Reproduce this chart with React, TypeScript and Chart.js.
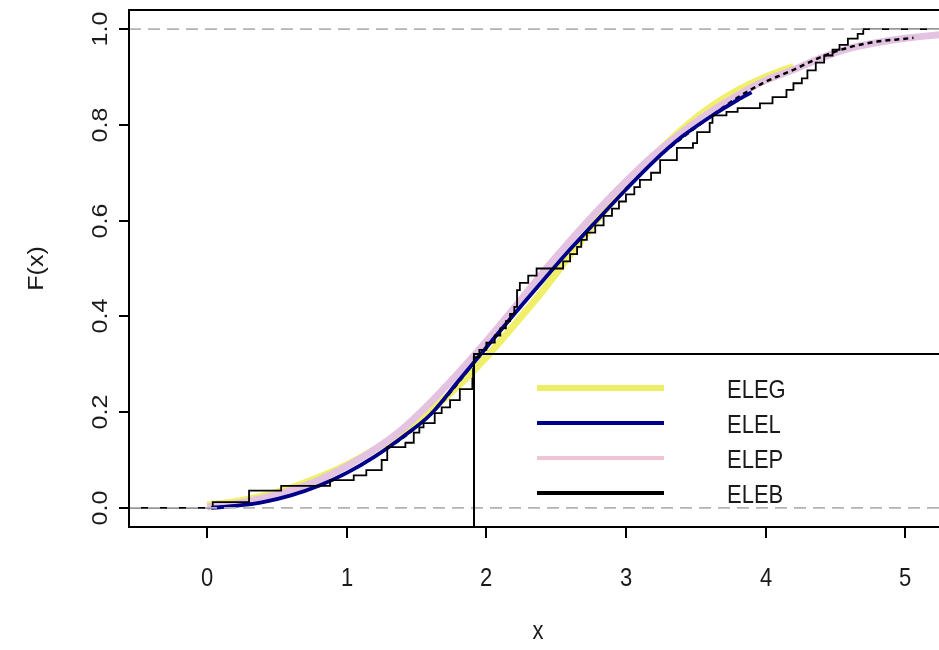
import React, { useEffect, useRef } from "react";
import { Chart, registerables } from "chart.js";

Chart.register(...registerables);

// ---- axis ranges & ticks ----
const X_MIN = -0.56;
const X_MAX = 5.3;
const Y_MIN = -0.04;
const Y_MAX = 1.04;
const xTicks = [0, 1, 2, 3, 4, 5];
const xTickLabels = ["0", "1", "2", "3", "4", "5"];
const yTicks = [0, 0.2, 0.4, 0.6, 0.8, 1.0];
const yTickLabels = ["0.0", "0.2", "0.4", "0.6", "0.8", "1.0"];
const xTitle = "x";
const yTitle = "F(x)";

// ---- empirical CDF (jump locations and level after each jump) ----
const ecdfX = [0.04, 0.30, 0.53, 0.88, 1.05, 1.14, 1.25, 1.29, 1.42, 1.48, 1.52, 1.55, 1.63, 1.68, 1.74, 1.81, 1.90, 1.905, 1.91, 1.95, 2.0, 2.06, 2.1, 2.14, 2.17, 2.2, 2.22, 2.24, 2.3, 2.36, 2.55, 2.6, 2.65, 2.68, 2.72, 2.78, 2.84, 2.9, 2.95, 3.0, 3.06, 3.1, 3.18, 3.245, 3.365, 3.48, 3.51, 3.6, 3.62, 3.72, 3.8, 3.96, 4.05, 4.15, 4.2, 4.26, 4.3, 4.36, 4.42, 4.48, 4.53, 4.59, 4.66, 4.7];
const ecdfY = [0.012, 0.036, 0.046, 0.058, 0.068, 0.079, 0.1, 0.127, 0.136, 0.157, 0.168, 0.177, 0.198, 0.21, 0.225, 0.248, 0.27, 0.29, 0.315, 0.33, 0.345, 0.36, 0.375, 0.39, 0.405, 0.42, 0.455, 0.47, 0.485, 0.5, 0.515, 0.53, 0.545, 0.56, 0.575, 0.59, 0.61, 0.625, 0.64, 0.655, 0.67, 0.685, 0.7, 0.7265, 0.752, 0.762, 0.785, 0.804, 0.82, 0.827, 0.835, 0.845, 0.858, 0.873, 0.887, 0.897, 0.914, 0.93, 0.945, 0.957, 0.967, 0.98, 0.99, 1.0];

// ---- fitted CDFs ----
const elegX = [0.0, 0.2, 0.4, 0.6, 0.8, 1.0, 1.2, 1.4, 1.6, 1.8, 2.0, 2.2, 2.4, 2.6, 2.8, 3.0, 3.2, 3.4, 3.6, 3.8, 4.0, 4.2];
const elegY = [0.006, 0.013, 0.025, 0.042, 0.064, 0.09, 0.122, 0.16, 0.203, 0.255, 0.315, 0.382, 0.452, 0.528, 0.603, 0.672, 0.735, 0.79, 0.836, 0.872, 0.9, 0.922];

const elelX = [0.03, 0.2, 0.4, 0.6, 0.8, 1.0, 1.2, 1.4, 1.6, 1.8, 2.0, 2.2, 2.4, 2.6, 2.8, 3.0, 3.2, 3.4, 3.6, 3.8, 3.9];
const elelY = [0.0, 0.004, 0.012, 0.026, 0.046, 0.073, 0.107, 0.148, 0.195, 0.265, 0.335, 0.405, 0.473, 0.54, 0.603, 0.665, 0.724, 0.775, 0.816, 0.852, 0.868];

const elepX = [0.0, 0.2, 0.4, 0.6, 0.8, 1.0, 1.2, 1.4, 1.6, 1.8, 2.0, 2.2, 2.4, 2.6, 2.8, 3.0, 3.2, 3.4, 3.6, 3.8, 4.0, 4.2, 4.4, 4.6, 4.8, 5.0, 5.2, 5.3];
const elepY = [0.002, 0.008, 0.02, 0.036, 0.058, 0.087, 0.122, 0.165, 0.22, 0.282, 0.348, 0.418, 0.49, 0.558, 0.622, 0.682, 0.737, 0.784, 0.826, 0.862, 0.893, 0.915, 0.94, 0.96, 0.972, 0.981, 0.987, 0.989];

const elebX = [0.03, 0.4, 0.8, 1.2, 1.6, 2.0, 2.4, 2.8, 3.2, 3.6, 3.8, 4.0, 4.2, 4.4, 4.6, 4.8, 5.0, 5.06];
const elebY = [0.0, 0.012, 0.046, 0.107, 0.195, 0.335, 0.473, 0.603, 0.724, 0.816, 0.857, 0.89, 0.915, 0.942, 0.962, 0.974, 0.98, 0.982];

const legendLabels = ["ELEG", "ELEL", "ELEP", "ELEB"];
const legendColors = ["#eeee66", "#00008b", "#f0c4d6", "#000000"];
const legendWidths = [6, 4, 4, 4];

const COL_ELEG = "#efef6a";
const COL_ELEL = "#00008b";
const COL_ELEP = "#e4c2e2";
const COL_GRID = "#b3b3b3";

const CANVAS_W = 960;
const CANVAS_H = 650;
const FONT_SIZE = 22;
const V_STRETCH = 1.14;
const FONT = `${FONT_SIZE}px "Liberation Sans", Arial, sans-serif`;

function pts(xs: number[], ys: number[]) {
  return xs.map((x, i) => ({ x, y: ys[i] }));
}

function drawText(ctx: CanvasRenderingContext2D, text: string, x: number, y: number, rotate: boolean) {
  ctx.save();
  ctx.translate(x, y);
  ctx.scale(1, V_STRETCH);
  if (rotate) ctx.rotate(-Math.PI / 2);
  ctx.fillText(text, 0, 0);
  ctx.restore();
}

const rAxesPlugin = {
  id: "rAxes",
  afterDraw(chart: any) {
    const ctx: CanvasRenderingContext2D = chart.ctx;
    const area = chart.chartArea;
    const xs = chart.scales.x;
    const ys = chart.scales.y;
    ctx.save();
    ctx.strokeStyle = "#000";
    ctx.lineWidth = 2;
    ctx.setLineDash([]);
    ctx.strokeRect(area.left, area.top, area.right - area.left, area.bottom - area.top);

    ctx.fillStyle = "#1a1a1a";
    ctx.font = FONT;
    ctx.textAlign = "center";
    ctx.textBaseline = "alphabetic";

    xTicks.forEach((v, i) => {
      const px = Math.round(xs.getPixelForValue(v));
      ctx.beginPath();
      ctx.moveTo(px, area.bottom);
      ctx.lineTo(px, area.bottom + 11);
      ctx.stroke();
      drawText(ctx, xTickLabels[i], px, area.bottom + 59, false);
    });
    yTicks.forEach((v, i) => {
      const py = Math.round(ys.getPixelForValue(v));
      ctx.beginPath();
      ctx.moveTo(area.left, py);
      ctx.lineTo(area.left - 10, py);
      ctx.stroke();
      drawText(ctx, yTickLabels[i], area.left - 22, py, true);
    });
    drawText(ctx, xTitle, (area.left + area.right) / 2, area.bottom + 112, false);
    drawText(ctx, yTitle, 43, (area.top + area.bottom) / 2, true);

    const boxW = 473;
    const boxH = 173;
    const bx = area.right - boxW;
    const by = area.bottom - boxH;
    ctx.lineWidth = 2;
    ctx.strokeStyle = "#000";
    ctx.strokeRect(bx, by, boxW, boxH);
    ctx.textAlign = "left";
    legendLabels.forEach((lab, i) => {
      const ly = by + 34 + i * 35;
      ctx.beginPath();
      ctx.strokeStyle = legendColors[i];
      ctx.lineWidth = legendWidths[i];
      ctx.lineCap = "butt";
      ctx.moveTo(bx + 63, ly);
      ctx.lineTo(bx + 190, ly);
      ctx.stroke();
      ctx.fillStyle = "#1a1a1a";
      drawText(ctx, lab, bx + 253, ly + 10, false);
    });
    ctx.restore();
  },
};

export default function App() {
  const ref = useRef<HTMLCanvasElement | null>(null);
  useEffect(() => {
    if (!ref.current) return;
    const ecdfPts = [{ x: X_MIN, y: 0 }, ...pts(ecdfX, ecdfY), { x: X_MAX, y: 1 }];
    const chart = new Chart(ref.current, {
      type: "scatter",
      data: {
        datasets: [
          {
            label: "h0",
            data: [{ x: X_MIN, y: 0 }, { x: X_MAX, y: 0 }],
            showLine: true,
            borderColor: COL_GRID,
            borderWidth: 1.6,
            borderDash: [12, 7],
            pointRadius: 0,
            order: 0,
          },
          {
            label: "h1",
            data: [{ x: X_MIN, y: 1 }, { x: X_MAX, y: 1 }],
            showLine: true,
            borderColor: COL_GRID,
            borderWidth: 1.6,
            borderDash: [12, 7],
            pointRadius: 0,
            order: 0,
          },
          {
            label: "ECDF",
            data: ecdfPts,
            showLine: true,
            stepped: "before",
            borderColor: "#000",
            borderWidth: 1.8,
            pointRadius: 0,
            order: 1,
          },
          {
            label: "ELEL",
            data: pts(elelX, elelY),
            showLine: true,
            cubicInterpolationMode: "monotone",
            borderColor: COL_ELEL,
            borderWidth: 3.8,
            pointRadius: 0,
            order: 2,
          },
          {
            label: "ELEB",
            data: pts(elebX, elebY),
            showLine: true,
            cubicInterpolationMode: "monotone",
            borderColor: "#000",
            borderWidth: 2.5,
            borderDash: [5, 4],
            pointRadius: 0,
            order: 3,
          },
          {
            label: "ELEP",
            data: pts(elepX, elepY),
            showLine: true,
            cubicInterpolationMode: "monotone",
            borderColor: COL_ELEP,
            borderWidth: 7,
            pointRadius: 0,
            order: 4,
          },
          {
            label: "ELEG",
            data: pts(elegX, elegY),
            showLine: true,
            cubicInterpolationMode: "monotone",
            borderColor: COL_ELEG,
            borderWidth: 7,
            pointRadius: 0,
            order: 5,
          },
        ],
      },
      options: {
        animation: false,
        responsive: false,
        devicePixelRatio: 1,
        layout: { padding: { left: 129, top: 10, right: CANVAS_W - 947, bottom: CANVAS_H - 527 } },
        scales: {
          x: { type: "linear", min: X_MIN, max: X_MAX, display: false },
          y: { type: "linear", min: Y_MIN, max: Y_MAX, display: false },
        },
        plugins: { legend: { display: false }, tooltip: { enabled: false } },
        events: [],
      },
      plugins: [rAxesPlugin],
    });
    return () => chart.destroy();
  }, []);
  return (
    <div style={{ position: "fixed", left: 0, top: 0, width: 939, height: 650, overflow: "hidden", background: "#fff" }}>
      <canvas ref={ref} width={CANVAS_W} height={CANVAS_H} style={{ display: "block", width: CANVAS_W, height: CANVAS_H }} />
    </div>
  );
}
